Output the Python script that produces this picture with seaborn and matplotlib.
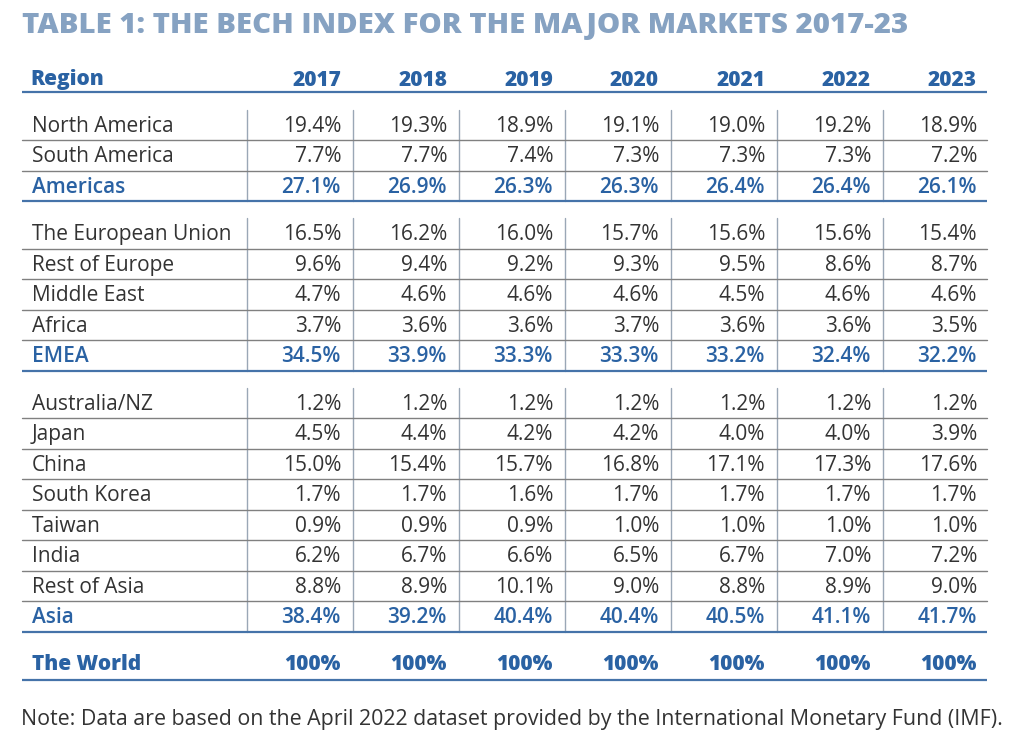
import matplotlib
matplotlib.use("Agg")
import matplotlib.pyplot as plt
import seaborn as sns

# ---- table content ----
TITLE = "TABLE 1: THE BECH INDEX FOR THE MAJOR MARKETS 2017-23"
NOTE = "Note: Data are based on the April 2022 dataset provided by the International Monetary Fund (IMF)."
YEARS = ["2017", "2018", "2019", "2020", "2021", "2022", "2023"]

americas_rows = ["North America", "South America"]
americas_vals = [
    [19.4, 19.3, 18.9, 19.1, 19.0, 19.2, 18.9],
    [7.7, 7.7, 7.4, 7.3, 7.3, 7.3, 7.2],
]
americas_total = [27.1, 26.9, 26.3, 26.3, 26.4, 26.4, 26.1]

emea_rows = ["The European Union", "Rest of Europe", "Middle East", "Africa"]
emea_vals = [
    [16.5, 16.2, 16.0, 15.7, 15.6, 15.6, 15.4],
    [9.6, 9.4, 9.2, 9.3, 9.5, 8.6, 8.7],
    [4.7, 4.6, 4.6, 4.6, 4.5, 4.6, 4.6],
    [3.7, 3.6, 3.6, 3.7, 3.6, 3.6, 3.5],
]
emea_total = [34.5, 33.9, 33.3, 33.3, 33.2, 32.4, 32.2]

asia_rows = ["Australia/NZ", "Japan", "China", "South Korea", "Taiwan", "India", "Rest of Asia"]
asia_vals = [
    [1.2, 1.2, 1.2, 1.2, 1.2, 1.2, 1.2],
    [4.5, 4.4, 4.2, 4.2, 4.0, 4.0, 3.9],
    [15.0, 15.4, 15.7, 16.8, 17.1, 17.3, 17.6],
    [1.7, 1.7, 1.6, 1.7, 1.7, 1.7, 1.7],
    [0.9, 0.9, 0.9, 1.0, 1.0, 1.0, 1.0],
    [6.2, 6.7, 6.6, 6.5, 6.7, 7.0, 7.2],
    [8.8, 8.9, 10.1, 9.0, 8.8, 8.9, 9.0],
]
asia_total = [38.4, 39.2, 40.4, 40.4, 40.5, 41.1, 41.7]

world_vals = [100, 100, 100, 100, 100, 100, 100]

groups = [
    ("Americas", americas_rows, americas_vals, americas_total),
    ("EMEA", emea_rows, emea_vals, emea_total),
    ("Asia", asia_rows, asia_vals, asia_total),
]

# ---- style ----
TITLE_C = "#86a2c2"
BLUE = "#2a62a3"
LINE_BLUE = "#4573a9"
TEXT_C = "#333333"
HGRID = "#808080"
VGRID = "#9aa7b6"
FONT = ["Open Sans", "DejaVu Sans"]

sns.set_theme(style="white")
plt.rcParams["font.family"] = FONT

W, H = 1024, 736
fig = plt.figure(figsize=(W / 100, H / 100), dpi=100)
ax = fig.add_axes([0, 0, 1, 1])
ax.set_xlim(0, W)
ax.set_ylim(H, 0)
ax.axis("off")

X_LEFT, X_RIGHT = 22, 987
COL_SEP = [247 + 106 * i for i in range(7)]
COL_RIGHT = [s + 94 for s in COL_SEP]
ROW_H = 30.5
GAP = 17
FS = 15.0
CAP = 7.2  # half cap height in px, for baseline placement

ax.text(X_LEFT, 33, TITLE, fontsize=21.2, fontweight="heavy", color=TITLE_C, va="baseline", ha="left")

# header
ax.text(30, 85.5, "Region", fontsize=FS, fontweight="heavy", color=BLUE, va="baseline")
for x, yr in zip(COL_RIGHT, YEARS):
    ax.text(x, 85.5, yr, fontsize=FS, fontweight="heavy", color=BLUE, va="baseline", ha="right")
ax.plot([X_LEFT, X_RIGHT], [92, 92], color=LINE_BLUE, lw=1.6, solid_capstyle="butt")

top = 109.5
for name, rows, vals, total in groups:
    labels = rows + [name]
    data = vals + [total]
    bottom = top + ROW_H * len(labels)
    for x in COL_SEP:
        ax.plot([x, x], [top, bottom], color=VGRID, lw=1.0)
    for i, (lab, rv) in enumerate(zip(labels, data)):
        cy = top + ROW_H * (i + 0.5)
        is_total = lab == name
        col = BLUE if is_total else TEXT_C
        wt = "semibold" if is_total else "normal"
        ax.text(32, cy + CAP, lab, fontsize=FS, color=col, fontweight=wt, va="baseline")
        for x, v in zip(COL_RIGHT, rv):
            ax.text(x, cy + CAP, f"{v:.1f}%", fontsize=FS, color=col, fontweight=wt,
                    va="baseline", ha="right")
        if i < len(labels) - 1:
            ax.plot([X_LEFT, X_RIGHT], [top + ROW_H * (i + 1)] * 2, color=HGRID, lw=1.0)
    ax.plot([X_LEFT, X_RIGHT], [bottom, bottom], color=LINE_BLUE, lw=1.6, solid_capstyle="butt")
    top = bottom + GAP
bottom = top - GAP

# world row
cy = bottom + 31.5
ax.text(32, cy + CAP, "The World", fontsize=FS, fontweight="heavy", color=BLUE, va="baseline")
for x, v in zip(COL_RIGHT, world_vals):
    ax.text(x, cy + CAP, f"{v}%", fontsize=FS, fontweight="heavy", color=BLUE, va="baseline", ha="right")
ax.plot([X_LEFT, X_RIGHT], [bottom + 48.5] * 2, color=LINE_BLUE, lw=1.6, solid_capstyle="butt")

ax.text(21, 725, NOTE, fontsize=15.4, color=TEXT_C, va="baseline")

fig.savefig("out.png", dpi=100, facecolor="white")
